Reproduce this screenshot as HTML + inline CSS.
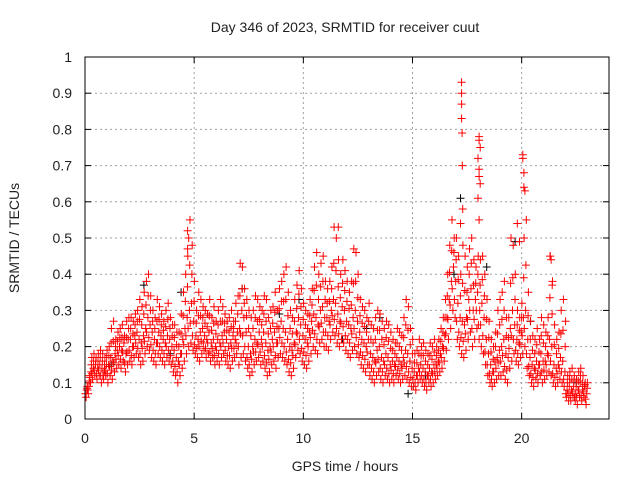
<!DOCTYPE html>
<html><head><meta charset="utf-8"><style>
body{margin:0;background:#fff}
svg{display:block;font-family:"Liberation Sans",sans-serif}
</style></head><body>
<svg id="chart" width="640" height="480" xmlns="http://www.w3.org/2000/svg">
<text x="345" y="32" font-size="14" text-anchor="middle" fill="#222">Day 346 of 2023, SRMTID for receiver cuut</text>
<text x="0" y="0" font-size="14" text-anchor="middle" fill="#222" transform="translate(19,238) rotate(-90)">SRMTID / TECUs</text>
<text x="345" y="471" font-size="14" text-anchor="middle" fill="#222">GPS time / hours</text>
<g id="grid"></g>
<g id="ticks"></g>
<g id="marks"></g>
<rect x="85" y="57" width="524" height="362" fill="none" stroke="#000" stroke-width="1"/>
</svg>
<script>
const xTicks=[0,5,10,15,20];
const yTicks=[0,0.1,0.2,0.3,0.4,0.5,0.6,0.7,0.8,0.9,1];
const yTickLabels=["0","0.1","0.2","0.3","0.4","0.5","0.6","0.7","0.8","0.9","1"];
// per 0.1h bin readings (TECU x100)
const loVals=[6,7,10,11,12,11,12,10,11,12,10,12,11,13,14,15,14,16,13,15,16,15,17,18,17,15,16,18,20,19,17,16,15,18,17,16,15,17,16,15,13,12,10,12,14,16,18,20,21,19,18,17,16,18,19,17,18,16,17,15,16,15,17,18,16,15,14,16,17,18,15,17,18,16,14,12,13,15,16,17,15,16,14,12,13,15,16,14,17,18,17,16,15,13,12,14,17,19,18,16,15,14,16,18,20,19,18,21,22,20,20,19,22,24,23,21,20,22,21,19,18,17,19,20,18,17,15,14,13,15,12,11,10,12,13,11,10,12,11,10,11,10,12,11,10,11,12,11,10,9,9,8,10,11,10,9,8,10,9,10,11,12,13,14,16,19,22,25,30,28,22,20,18,17,19,22,24,20,22,25,22,20,18,15,12,10,9,10,11,12,12,13,11,10,14,16,18,16,15,17,18,20,14,12,10,9,11,10,12,10,11,12,13,12,10,9,10,11,10,9,6,5,5,6,5,4,6,5,6,4];
const midVals=[8,9,13,14,15,14,15,14,13,15,15,17,16,18,19,20,19,21,18,22,22,20,23,24,22,21,23,25,28,26,24,22,21,24,23,22,21,23,22,20,19,17,16,18,22,25,28,30,32,27,23,22,24,25,23,22,24,21,22,20,22,21,23,24,22,20,21,23,22,24,25,30,28,24,20,18,20,22,21,24,22,24,21,19,20,22,24,21,25,27,25,24,22,20,19,21,24,28,26,23,22,21,24,27,29,28,26,30,31,28,28,27,30,33,32,29,27,31,30,27,26,25,28,30,27,24,22,21,20,22,18,17,16,19,20,17,16,18,17,15,16,15,17,16,15,17,19,18,16,14,13,12,14,15,14,13,12,14,13,15,15,16,18,20,23,28,33,38,42,38,32,28,27,26,28,33,36,30,33,35,30,32,28,22,18,15,13,16,17,19,20,22,18,17,25,30,26,22,21,24,28,30,22,17,15,14,16,15,18,16,16,18,22,20,15,14,15,17,16,13,8,9,8,9,7,8,10,8,9,7];
const hiVals=[9,12,17,18,17,18,19,18,17,19,20,25,27,22,24,25,26,23,27,28,28,27,29,30,33,31,35,38,40,34,30,28,33,31,29,27,30,32,28,26,26,24,24,29,35,40,45,55,48,38,30,35,33,31,30,29,33,28,31,27,30,33,31,29,27,28,30,27,32,34,43,42,36,33,30,28,30,34,33,31,30,34,33,28,30,31,35,30,36,38,40,42,35,30,28,33,37,41,36,32,30,29,33,36,42,46,40,43,45,38,36,38,42,53,50,44,40,44,41,38,35,38,47,46,40,33,31,30,28,32,26,25,28,30,29,27,25,27,26,24,22,21,25,24,23,28,33,31,25,22,18,19,22,20,21,19,18,21,20,22,20,22,25,28,33,40,48,55,50,50,45,40,48,45,42,47,50,44,42,45,44,45,40,33,27,22,20,24,30,33,35,38,28,28,50,48,40,30,28,32,50,55,35,27,23,22,25,22,28,26,24,28,45,38,26,22,24,30,33,27,12,13,14,12,11,13,14,12,10,10];
const spikeT=[17.25,17.25,17.25,17.25,17.27,17.28,18.05,18.05,18.1,18.0,18.05,18.05,18.1,18.0,18.05,20.05,20.05,20.1,20.1,20.15,4.7,4.75,4.7,11.6,21.3,21.35,21.4,19.9,19.8,17.2,17.3];
const spikeV=[0.93,0.90,0.87,0.83,0.79,0.70,0.78,0.77,0.75,0.72,0.69,0.67,0.65,0.61,0.55,0.73,0.72,0.68,0.64,0.63,0.52,0.50,0.47,0.53,0.45,0.44,0.37,0.49,0.54,0.54,0.58];
const blackT=[4.4,7.2,8.9,11.8,13.5,14.8,16.9,17.2,18.4,19.7,20.4,22.5,2.7,1.2,3.9,9.8,12.9,15.6];
const blackV=[0.35,0.36,0.29,0.22,0.28,0.07,0.40,0.61,0.42,0.49,0.27,0.10,0.37,0.15,0.18,0.33,0.25,0.12];

const NS="http://www.w3.org/2000/svg";
const X0=85,X1=609,Y0=419,Y1=57;
const xs=t=>X0+(t/24)*(X1-X0);
const ys=v=>Y0-v*(Y0-Y1);
const grid=document.getElementById('grid'),ticks=document.getElementById('ticks'),marks=document.getElementById('marks');
function mk(tag,attrs,parent){const e=document.createElementNS(NS,tag);for(const k in attrs)e.setAttribute(k,attrs[k]);parent.appendChild(e);return e;}
yTicks.forEach((v,i)=>{
  const y=ys(v);
  if(v>0&&v<1){const g=mk('line',{x1:X0,x2:X1,y1:y,y2:y,stroke:'#a0a0a0','stroke-dasharray':'2,3'},grid);
  
  }
  mk('line',{x1:X0,x2:X0+6,y1:y,y2:y,stroke:'#000'},ticks);
  mk('line',{x1:X1-6,x2:X1,y1:y,y2:y,stroke:'#000'},ticks);
  const t=mk('text',{x:72,y:y+5,'font-size':14,'text-anchor':'end',fill:'#222'},ticks);
  t.textContent=yTickLabels[i];
  
  
});
xTicks.forEach(v=>{
  const x=xs(v);
  if(v>0){const g=mk('line',{x1:x,x2:x,y1:Y0,y2:Y1,stroke:'#a0a0a0','stroke-dasharray':'2,3'},grid);
  
  }
  mk('line',{x1:x,x2:x,y1:Y0,y2:Y0-6,stroke:'#000'},ticks);
  mk('line',{x1:x,x2:x,y1:Y1,y2:Y1+6,stroke:'#000'},ticks);
  const t=mk('text',{x:x,y:443,'font-size':14,'text-anchor':'middle',fill:'#222'},ticks);
  t.textContent=String(v);
  
  
});
function cross(t,v){const x=xs(t),y=ys(v);return `M${(x-4).toFixed(1)} ${y.toFixed(1)}h8M${x.toFixed(1)} ${(y-4).toFixed(1)}v8`;}
let dB='';
blackT.forEach((t,i)=>{dB+=cross(t,blackV[i]);});
const pb=mk('path',{d:dB,stroke:'#000',fill:'none','stroke-width':1},marks);


let dR='';
loVals.forEach((v,i)=>{const t=0.05+0.1*i;
  dR+=cross(t,v/100)+cross(t+0.03,midVals[i]/100)+cross(t+0.06,hiVals[i]/100);
  dR+=cross(t-0.03,(loVals[i]+midVals[i])/200);
  dR+=cross(t+0.045,(midVals[i]+hiVals[i])/200);
});
spikeT.forEach((t,i)=>{dR+=cross(t,spikeV[i]);});
const pr=mk('path',{d:dR,stroke:'#ff0000',fill:'none','stroke-width':1},marks);


</script>
</body></html>
